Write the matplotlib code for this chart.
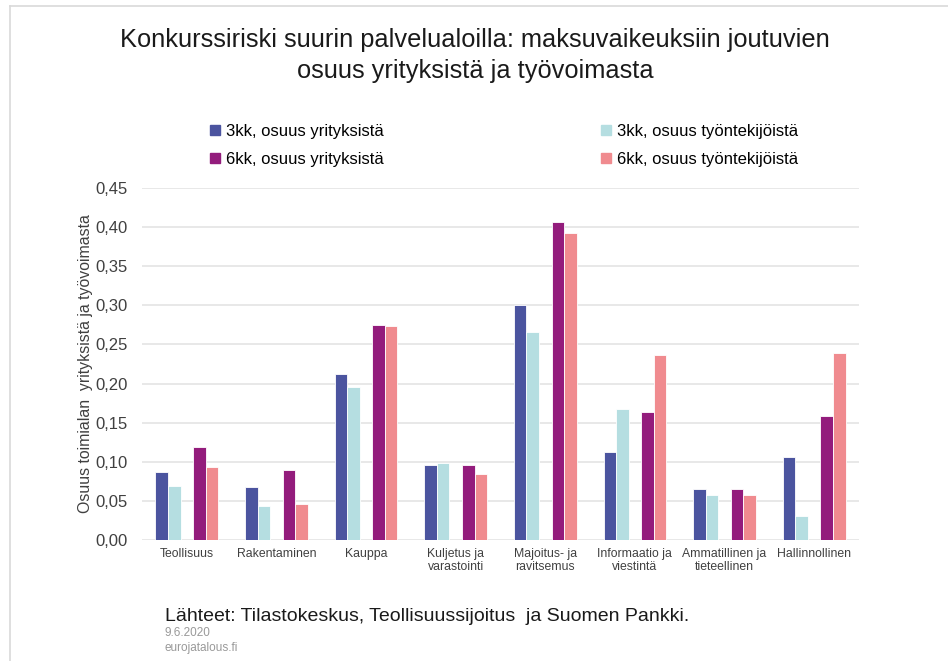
import numpy as np
import matplotlib.pyplot as plt
from matplotlib.lines import Line2D

plt.rcParams['font.family'] = ['Liberation Sans', 'DejaVu Sans']

# toimialat (x-akseli)
toimialat = ["Teollisuus", "Rakentaminen", "Kauppa", "Kuljetus ja\nvarastointi",
             "Majoitus- ja\nravitsemus", "Informaatio ja\nviestintä",
             "Ammatillinen ja\ntieteellinen", "Hallinnollinen"]

# sarjat
yrit_3kk = [0.087, 0.068, 0.212, 0.096, 0.300, 0.113, 0.065, 0.106]
tyo_3kk = [0.069, 0.043, 0.196, 0.098, 0.266, 0.168, 0.058, 0.031]
yrit_6kk = [0.119, 0.090, 0.275, 0.096, 0.406, 0.163, 0.065, 0.158]
tyo_6kk = [0.093, 0.046, 0.274, 0.084, 0.392, 0.237, 0.058, 0.239]

nimet = ["3kk, osuus yrityksistä", "3kk, osuus työntekijöistä",
         "6kk, osuus yrityksistä", "6kk, osuus työntekijöistä"]
varit = ["#4B549F", "#B5DEE1", "#931C7C", "#F08B8F"]

yticks = [0.0, 0.05, 0.10, 0.15, 0.20, 0.25, 0.30, 0.35, 0.40, 0.45]

fig = plt.figure(figsize=(9.48, 6.61), dpi=100)
ax = fig.add_axes([0.1498, 0.1831, 0.7563, 0.5325])

x = np.arange(len(toimialat))
w = 0.14
sarjat = [yrit_3kk, tyo_3kk, yrit_6kk, tyo_6kk]
siirrot = [-2 * w, -w, w, 2 * w]
for arvot, s, v in zip(sarjat, siirrot, varit):
    ax.bar(x + s, arvot, width=w, color=v, edgecolor="white", linewidth=0.6, zorder=3)

ax.set_xlim(-0.5, len(toimialat) - 0.5)
ax.set_ylim(0, 0.45)
ax.set_yticks(yticks)
ax.set_yticklabels([f"{t:.2f}".replace(".", ",") for t in yticks], fontsize=12, color="#404040")
ax.set_xticks(x)
ax.set_xticklabels(toimialat, fontsize=8.8, color="#404040", linespacing=1.1)
ax.tick_params(axis="x", length=0, pad=6)
ax.tick_params(axis="y", length=0, pad=10)
ax.yaxis.grid(True, color="#E8E8E8", linewidth=1.4, zorder=0)
for sp in ax.spines.values():
    sp.set_visible(False)
ax.set_ylabel("Osuus toimialan  yrityksistä ja työvoimasta", fontsize=11.4, color="#404040", labelpad=2)

# legenda
kahvat = [Line2D([], [], marker="s", linestyle="", markersize=7, color=v) for v in varit]
jarj = [0, 2, 1, 3]
fig.legend([kahvat[i] for i in jarj], [nimet[i] for i in jarj], ncol=2,
           loc="upper left", bbox_to_anchor=(0.221, 0.812), frameon=False,
           fontsize=12, handlelength=0.6, handletextpad=0.4, columnspacing=13.0,
           labelspacing=0.75, borderpad=0, borderaxespad=0)

# otsikko
fig.text(0.501, 0.916, "Konkurssiriski suurin palvelualoilla: maksuvaikeuksiin joutuvien\nosuus yrityksistä ja työvoimasta",
         ha="center", va="center", fontsize=18.3, color="#1a1a1a", linespacing=1.35)

# lähteet
fig.text(0.174, 0.067, "Lähteet: Tilastokeskus, Teollisuussijoitus  ja Suomen Pankki.", fontsize=14, color="#1a1a1a", va="center")
fig.text(0.174, 0.042, "9.6.2020", fontsize=8.5, color="#999999", va="center")
fig.text(0.174, 0.019, "eurojatalous.fi", fontsize=8.5, color="#999999", va="center")

# kehys
fig.add_artist(Line2D([10 / 948, 1], [1 - 6 / 661, 1 - 6 / 661], color="#D9D9D9", linewidth=1.2))
fig.add_artist(Line2D([10 / 948, 10 / 948], [0, 1 - 6 / 661], color="#D9D9D9", linewidth=1.2))

fig.savefig("out.png", dpi=100)
